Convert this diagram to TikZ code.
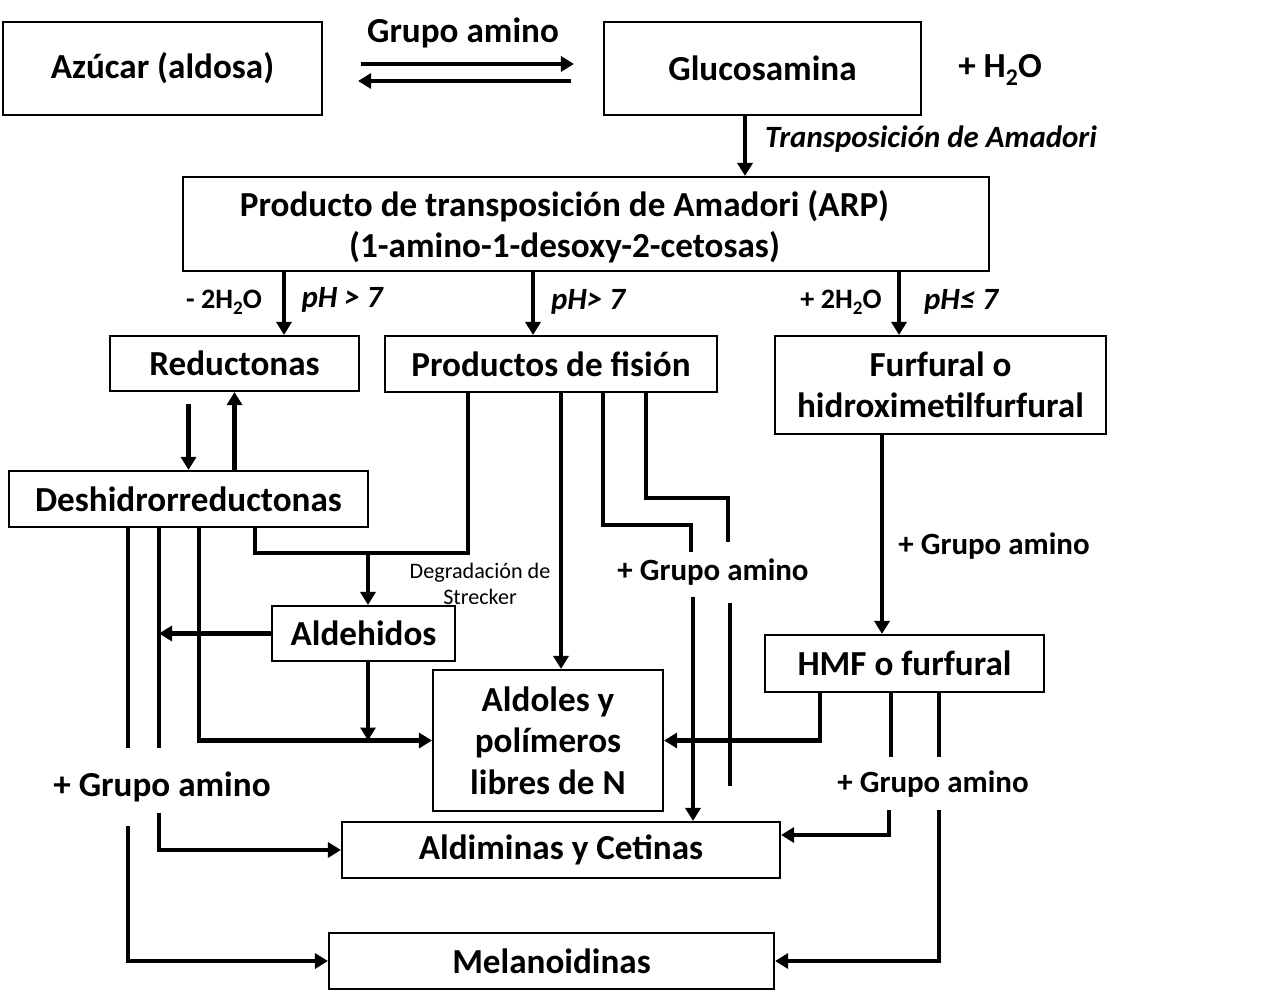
\documentclass[tikz,border=0pt]{standalone}
\usepackage{fontspec}
\setmainfont{Carlito}
\usetikzlibrary{arrows.meta,positioning,calc}
\newcommand{\subidx}[1]{\raisebox{-0.45ex}{\scalebox{0.68}{#1}}}

\begin{document}
\begin{tikzpicture}[
    box/.style={rectangle, draw, line width=0.6pt, inner sep=0pt, align=center, font=\fontsize{10}{11.8}\selectfont\bfseries},
    big/.style={inner sep=0pt, font=\fontsize{10}{12}\selectfont\bfseries},
    lbl/.style={inner sep=0pt, font=\fontsize{8.8}{10}\selectfont\bfseries},
    cond/.style={inner sep=0pt, font=\fontsize{8.8}{10}\selectfont\bfseries\itshape},
    small/.style={inner sep=0pt, align=center, font=\fontsize{6.3}{7.4}\selectfont},
    flow/.style={line width=1.3pt},
    arr/.style={flow, -{Triangle[length=1.3mm, width=1.5mm]}}
]
    \useasboundingbox (0,0) rectangle (12.8,-10.03);

    % Sugar and amino group
    \node[box, minimum width=3.19cm, minimum height=0.93cm] (azucar) at (1.625,-0.685) {Azúcar (aldosa)};
    \node[box, minimum width=3.17cm, minimum height=0.93cm] (gluco) at (7.625,-0.685) {Glucosamina};
    \node[big] (grupo) at (4.63,-0.33) {Grupo amino};
    \node[big] (agua) at (10.0,-0.70) {+ H\subidx{2}O};

    % Amadori product
    \node[rectangle, draw, line width=0.6pt, minimum width=8.06cm, minimum height=0.94cm] (arp) at (5.86,-2.24) {};
    \node[box, draw=none] (arptext) at (5.645,-2.265) {Producto de transposición de Amadori (ARP)\\(1-amino-1-desoxy-2-cetosas)};
    \node[cond] (transp) at (9.31,-1.39) {Transposición de Amadori};

    % Second level
    \node[box, minimum width=2.49cm, minimum height=0.55cm] (reductonas) at (2.345,-3.635) {Reductonas};
    \node[box, minimum width=3.32cm, minimum height=0.56cm] (productos) at (5.51,-3.64) {Productos de fisión};
    \node[box, minimum width=3.31cm, minimum height=0.98cm] (furfural) at (9.405,-3.85) {Furfural o\\hidroximetilfurfural};

    \node[lbl, font=\fontsize{8}{9}\selectfont\bfseries] (menosagua) at (2.24,-3.02) {- 2H\subidx{2}O};
    \node[cond] (ph1) at (3.42,-3.00) {pH > 7};
    \node[cond] (ph2) at (5.88,-3.02) {pH> 7};
    \node[lbl, font=\fontsize{8}{9}\selectfont\bfseries] (masagua) at (8.41,-3.02) {+ 2H\subidx{2}O};
    \node[cond] (ph3) at (9.61,-3.02) {pH≤ 7};

    % Third level
    \node[box, minimum width=3.59cm, minimum height=0.56cm] (deshidro) at (1.885,-4.99) {Deshidrorreductonas};
    \node[box, minimum width=1.83cm, minimum height=0.55cm] (aldehidos) at (3.635,-6.335) {Aldehidos};
    \node[box, minimum width=2.30cm, minimum height=1.41cm] (aldoles) at (5.48,-7.405) {Aldoles y\\polímeros\\libres de N};
    \node[box, minimum width=2.79cm, minimum height=0.57cm] (hmf) at (9.045,-6.635) {HMF o furfural};

    \node[small] (strecker) at (4.80,-5.84) {Degradación de\\Strecker};
    \node[lbl] (gaM) at (7.13,-5.72) {+ Grupo amino};
    \node[lbl] (gaF) at (9.94,-5.46) {+ Grupo amino};
    \node[lbl] (gaR) at (9.33,-7.84) {+ Grupo amino};
    \node[big] (gaL) at (1.62,-7.87) {+ Grupo amino};

    % Final products
    \node[box, minimum width=4.38cm, minimum height=0.56cm] (aldiminas) at (5.61,-8.50) {Aldiminas y Cetinas};
    \node[box, minimum width=4.45cm, minimum height=0.56cm] (melanoidinas) at (5.515,-9.61) {Melanoidinas};

    % Columns and free ends
    \coordinate (colAmad) at (7.45,0);
    \coordinate (colRed) at (2.84,0);
    \coordinate (colFis) at (5.33,0);
    \coordinate (colFur) at (8.99,0);
    \coordinate (colPolL) at (1.99,0);
    \coordinate (colStrL) at (2.55,0);
    \coordinate (colStrR) at (4.68,0);
    \coordinate (colPol) at (5.61,0);
    \coordinate (colHmf) at (8.82,0);
    \coordinate (colHmfP) at (8.20,0);
    \coordinate (junction) at (3.68,-5.53);
    \coordinate (turnA) at (6.03,-5.25);
    \coordinate (turnB) at (6.46,-4.98);
    \coordinate (stubA) at (6.91,-5.52);
    \coordinate (stubB) at (7.28,-5.42);
    \coordinate (restA) at (6.93,-5.97);
    \coordinate (restB) at (7.30,-6.03);
    \coordinate (endB) at (7.30,-7.86);
    \coordinate (stubH1) at (8.91,-7.57);
    \coordinate (stubH2) at (9.39,-7.57);
    \coordinate (restH1) at (8.89,-8.10);
    \coordinate (restH2) at (9.39,-8.10);
    \coordinate (endMelL) at (1.28,-7.48);
    \coordinate (endAldL) at (1.59,-7.48);
    \coordinate (restMelL) at (1.28,-8.26);
    \coordinate (restAldL) at (1.59,-8.13);

    % Connections
    \draw[arr, shorten <=0.38cm, shorten >=0.29cm] ([yshift=0.045cm]azucar.east) -- ([yshift=0.045cm]gluco.west);
    \draw[arr, shorten <=0.32cm, shorten >=0.35cm] ([yshift=-0.125cm]gluco.west) -- ([yshift=-0.125cm]azucar.east);
    \draw[arr] (gluco.south -| colAmad) -- (arp.north -| colAmad);
    \draw[arr] (arp.south -| colRed) -- (reductonas.north -| colRed);
    \draw[arr] (arp.south -| colFis) -- (productos.north -| colFis);
    \draw[arr] (arp.south -| colFur) -- (furfural.north -| colFur);

    \draw[arr, shorten <=0.12cm] (reductonas.south -| deshidro.north) -- (deshidro.north);
    \draw[arr] (deshidro.north -| reductonas.south) -- (reductonas.south);

    % Strecker degradation
    \draw[flow] (productos.south -| colStrR) |- (junction) -| (deshidro.south -| colStrL);
    \draw[arr] (junction) -- (aldehidos.north -| junction);
    \draw[arr] (aldehidos.west) -- (aldehidos.west -| endAldL);
    \draw[arr] (aldehidos.south -| junction) -- (aldoles.west -| junction);

    % From Deshidrorreductonas
    \draw[arr] (deshidro.south -| colPolL) |- (aldoles.west);
    \draw[flow] (deshidro.south -| endAldL) -- (endAldL);
    \draw[flow] (deshidro.south -| endMelL) -- (endMelL);
    \draw[arr] (restAldL) |- (aldiminas.west);
    \draw[arr] (restMelL) |- (melanoidinas.west);

    % From Productos de fision
    \draw[arr] (productos.south -| colPol) -- (aldoles.north -| colPol);
    \draw[flow] (productos.south -| turnA) -- (turnA) -| (stubA);
    \draw[flow] (productos.south -| turnB) -- (turnB) -| (stubB);
    \draw[arr] (restA) -- (aldiminas.north -| restA);
    \draw[flow] (restB) -- (endB);

    % From Furfural and HMF
    \draw[arr] (furfural.south -| colHmf) -- (hmf.north -| colHmf);
    \draw[arr] (hmf.south -| colHmfP) |- (aldoles.east);
    \draw[flow] (hmf.south -| stubH1) -- (stubH1);
    \draw[flow] (hmf.south -| stubH2) -- (stubH2);
    \draw[arr] (restH1) |- ([yshift=0.15cm]aldiminas.east);
    \draw[arr] (restH2) |- (melanoidinas.east);
\end{tikzpicture}
\end{document}
